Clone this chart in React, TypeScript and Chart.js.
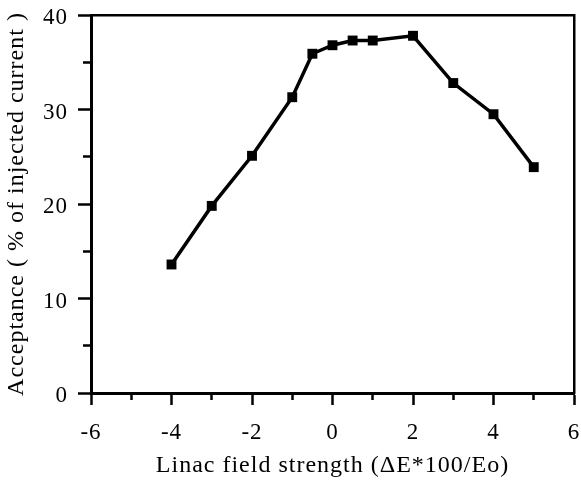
import React, { useEffect, useRef } from "react";
import { Chart, registerables } from "chart.js";

Chart.register(...registerables);

const fieldStrength = [-4, -3, -2, -1, -0.5, 0, 0.5, 1, 2, 3, 4, 5];
const acceptance = [13.6, 19.8, 25.1, 31.3, 35.9, 36.8, 37.3, 37.3, 37.8, 32.8, 29.5, 23.9];
const xRange = [-6, 6];
const yRange = [0, 40];
const xTitle = "Linac field strength (\u0394E*100/Eo)";
const yTitle = "Acceptance ( % of injected current )";

const FONT = "'Liberation Serif', 'Times New Roman', serif";

const spacingPlugin = {
  id: "spacing",
  beforeDraw(chart: any) {
    (chart.ctx as any).letterSpacing = "1px";
  },
};

export default function App() {
  const ref = useRef<HTMLCanvasElement | null>(null);

  useEffect(() => {
    if (!ref.current) return;
    const chart = new Chart(ref.current, {
      type: "line",
      plugins: [spacingPlugin],
      data: {
        datasets: [
          {
            data: fieldStrength.map((x, i) => ({ x, y: acceptance[i] })),
            borderColor: "#000",
            backgroundColor: "#000",
            borderWidth: 3.5,
            pointStyle: "rect",
            pointRadius: 7,
            pointBorderWidth: 0,
            pointBackgroundColor: "#000",
            tension: 0,
            clip: false,
          },
        ],
      },
      options: {
        animation: false,
        responsive: false,
        devicePixelRatio: 1,
        layout: { padding: { top: 15, right: 6, left: 0, bottom: 0 } },
        plugins: { legend: { display: false }, tooltip: { enabled: false } },
        scales: {
          x: {
            type: "linear",
            position: "bottom",
            min: xRange[0],
            max: xRange[1],
            afterFit: (s: any) => {
              s.height = 89;
              s.paddingLeft = 0;
              s.paddingRight = 0;
            },
            border: { display: true, color: "#000", width: 3 },
            grid: {
              display: true,
              drawOnChartArea: false,
              drawTicks: true,
              tickLength: 12,
              tickWidth: 2.5,
              tickColor: "#000",
              tickBorderDash: (c: any) =>
                Math.abs(Math.round(c.tick.value)) % 2 === 1 ? [5, 100] : [],
            },
            ticks: {
              stepSize: 1,
              autoSkip: false,
              maxRotation: 0,
              padding: 14,
              color: "#000",
              font: { family: FONT, size: 23 },
              callback: (v: any) =>
                Math.abs(Math.round(v)) % 2 === 1 ? "" : String(v),
            },
            title: {
              display: true,
              text: xTitle,
              color: "#000",
              font: { family: FONT, size: 24 },
              padding: { top: 0, bottom: 2 },
            },
          },
          x2: {
            type: "linear",
            position: "top",
            min: xRange[0],
            max: xRange[1],
            afterFit: (s: any) => {
              s.height = 0;
              s.paddingLeft = 0;
              s.paddingRight = 0;
            },
            border: { display: true, color: "#000", width: 2.5 },
            grid: { display: false, drawTicks: false },
            ticks: { display: false },
          },
          y: {
            type: "linear",
            position: "left",
            min: yRange[0],
            max: yRange[1],
            afterFit: (s: any) => {
              s.width = 91;
              s.paddingTop = 0;
              s.paddingBottom = 0;
            },
            border: { display: true, color: "#000", width: 3 },
            grid: {
              display: true,
              drawOnChartArea: false,
              drawTicks: true,
              tickLength: 13,
              tickWidth: 2.5,
              tickColor: "#000",
              tickBorderDash: (c: any) =>
                Math.round(c.tick.value) % 10 !== 0 ? [0, 5, 7, 100] : [],
            },
            ticks: {
              stepSize: 5,
              autoSkip: false,
              padding: 10,
              labelOffset: 3,
              color: "#000",
              font: { family: FONT, size: 23 },
              callback: (v: any) => (Math.round(v) % 10 !== 0 ? "" : String(v)),
            },
            title: {
              display: true,
              text: yTitle,
              color: "#000",
              font: { family: FONT, size: 24 },
              padding: { top: 2, bottom: 0 },
            },
          },
          y2: {
            type: "linear",
            position: "right",
            min: yRange[0],
            max: yRange[1],
            afterFit: (s: any) => {
              s.width = 0;
              s.paddingTop = 0;
              s.paddingBottom = 0;
            },
            border: { display: true, color: "#000", width: 2.5 },
            grid: { display: false, drawTicks: false },
            ticks: { display: false },
          },
        },
      },
    });
    return () => chart.destroy();
  }, []);

  return (
    <div style={{ position: "fixed", left: 0, top: 0, width: 581, height: 482, background: "#fff" }}>
      <canvas ref={ref} width={581} height={482} style={{ width: 581, height: 482 }} />
    </div>
  );
}
